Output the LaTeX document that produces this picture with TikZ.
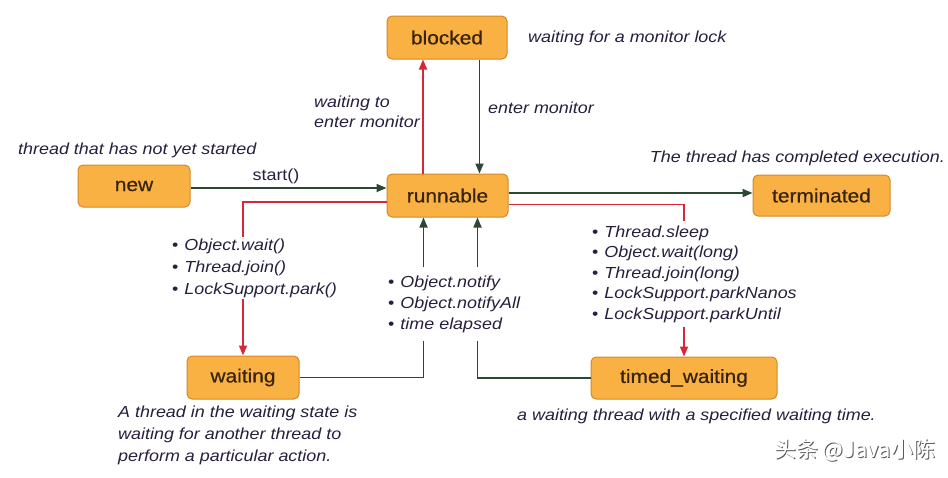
\documentclass[tikz,border=0pt]{standalone}
\usepackage{fontspec}
\setmainfont{Liberation Sans}[FakeStretch=1.12]
\newfontfamily\statefont{Liberation Sans}[FakeStretch=1.1,FakeBold=0.6]
\newfontfamily\cjk{Noto Sans CJK SC}
\usetikzlibrary{arrows.meta,calc}
\definecolor{boxfill}{RGB}{248,177,66}
\definecolor{boxline}{RGB}{212,138,40}
\definecolor{boxtext}{RGB}{55,35,15}
\definecolor{labtext}{RGB}{40,30,62}
\definecolor{grn}{RGB}{45,72,50}
\definecolor{redl}{RGB}{214,40,55}
\tikzset{
  state/.style={draw=boxline, line width=1pt, fill=boxfill, rounded corners=5pt,
    text=boxtext, font=\statefont\fontsize{19}{22}\selectfont, inner sep=0pt},
  lab/.style={text=labtext, font=\fontsize{16}{19}\selectfont\itshape, inner sep=0pt},
  plainlab/.style={text=labtext, font=\fontsize{16}{19}\selectfont, inner sep=0pt},
  listlab/.style={text=labtext, fill=white, align=left, inner xsep=2pt},
  grnarr/.style={draw=grn, line width=1.7pt, -{Triangle[length=10pt,width=8pt]}},
  redarr/.style={draw=redl, line width=1.7pt, -{Triangle[length=10pt,width=8pt]}},
}
\begin{document}
\begin{tikzpicture}[x=1pt,y=-1pt]
\useasboundingbox (0,0) rectangle (948,477);
\fill[white] (0,0) rectangle (948,477);

% states
\node[state, minimum width=120pt, minimum height=43pt] (blocked) at (447,37.5) {blocked};
\node[state, minimum width=112pt, minimum height=42pt] (new) at (134,186) {new};
\node[state, minimum width=121pt, minimum height=43pt] (run) at (447.5,195.5) {runnable};
\node[state, minimum width=137pt, minimum height=41pt] (term) at (821.5,195.5) {terminated};
\node[state, minimum width=112pt, minimum height=43pt] (wait) at (243,377.5) {waiting};
\node[state, minimum width=186pt, minimum height=42pt] (timed) at (684,378) {timed\_waiting};

% connectors
\draw[redarr] ([xshift=-24.5pt]run.north) -- ([xshift=-24.5pt]run.north |- blocked.south);
\draw[grnarr] ([xshift=32pt]run.north |- blocked.south) -- ([xshift=32pt]run.north);
\draw[grnarr] ([yshift=-2pt]new.east) -- ([yshift=-2pt]new.east -| run.west);
\draw[grnarr] ([yshift=2.5pt]run.east) -- ([yshift=2.5pt]run.east -| term.west);
\draw[redarr] ([yshift=-6.5pt]run.west) -| (wait.north);
\draw[redarr] ([yshift=-9pt]run.east) -| (timed.north);
\draw[grnarr] (wait.east) -| ([xshift=-24pt]run.south);
\draw[grnarr] (timed.west) -| ([xshift=30pt]run.south);

% labels
\node[lab, anchor=west] (lblocked) at (528,38) {waiting for a monitor lock};
\node[lab, anchor=east, align=left, font=\fontsize{16}{20}\selectfont\itshape] (lwaitmon) at (420,112) {waiting to\\enter monitor};
\node[lab, anchor=west] (lenter) at (488,108) {enter monitor};
\node[lab, anchor=west] (lnew) at (18,150) {thread that has not yet started};
\node[plainlab] (lstart) at (276,176) {start()};
\node[lab, anchor=east] (lterm) at (945,158) {The thread has completed execution.};

\node[lab, listlab, anchor=west, inner ysep=2pt, font=\fontsize{16}{22}\selectfont\itshape] (lwaitlist) at (170,268)
  {\upshape•\hspace{6pt}\itshape Object.wait()\\\upshape•\hspace{6pt}\itshape Thread.join()\\\upshape•\hspace{6pt}\itshape LockSupport.park()};
\node[lab, listlab, anchor=west, inner ysep=9pt, font=\fontsize{16}{21}\selectfont\itshape] (lnotify) at (386,304)
  {\upshape•\hspace{6pt}\itshape Object.notify\\\upshape•\hspace{6pt}\itshape Object.notifyAll\\\upshape•\hspace{6pt}\itshape time elapsed};
\node[lab, listlab, anchor=west, inner ysep=5pt, font=\fontsize{16}{20.5}\selectfont\itshape] (ltimedlist) at (590,274)
  {\upshape•\hspace{6pt}\itshape Thread.sleep\\\upshape•\hspace{6pt}\itshape Object.wait(long)\\\upshape•\hspace{6pt}\itshape Thread.join(long)\\\upshape•\hspace{6pt}\itshape LockSupport.parkNanos\\\upshape•\hspace{6pt}\itshape LockSupport.parkUntil};

\node[lab, anchor=west, align=left, font=\fontsize{16}{22}\selectfont\itshape] (lwaitdesc) at (118,435)
  {A thread in the waiting state is\\waiting for another thread to\\perform a particular action.};
\node[lab, anchor=west] (ltimeddesc) at (517,416) {a waiting thread with a specified waiting time.};

% watermark
\node[text=black!65, font=\cjk\fontsize{22}{24}\selectfont, anchor=east, inner sep=0pt] (wmshadow) at (936.5,451) {头条 @Java小陈};
\node[text=white, font=\cjk\fontsize{22}{24}\selectfont, anchor=east, inner sep=0pt] (wm) at (935.5,450) {头条 @Java小陈};
\end{tikzpicture}
\end{document}
